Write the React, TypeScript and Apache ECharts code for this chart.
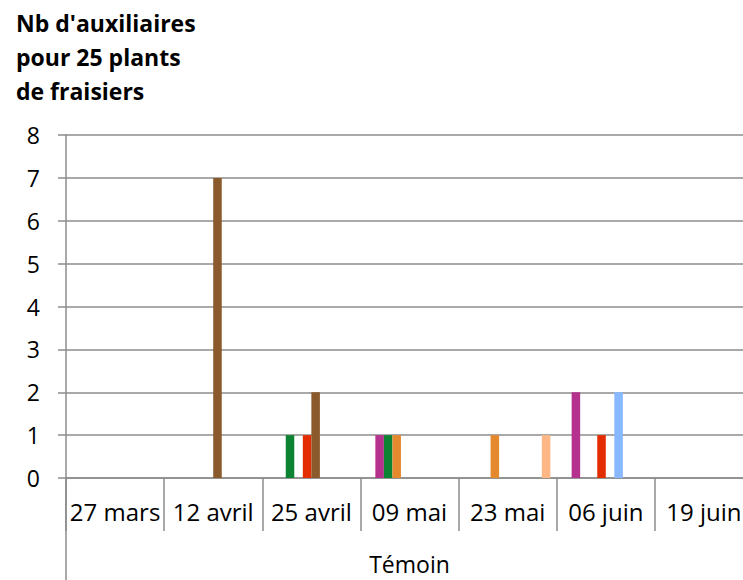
import React, { useEffect, useRef } from "react";
import * as echarts from "echarts";

const categories = ["27 mars", "12 avril", "25 avril", "09 mai", "23 mai", "06 juin", "19 juin"];
const groupLabels = ["Témoin"];
const yTicks = [0, 1, 2, 3, 4, 5, 6, 7, 8];

const seriesNames = ["Série 1", "Série 2", "Série 3", "Série 4", "Série 5", "Série 6", "Série 7", "Série 8", "Série 9", "Série 10"];
const serie1 = [0, 0, 0, 0, 0, 0, 0];
const serie2 = [0, 0, 0, 1, 0, 2, 0];
const serie3 = [0, 0, 1, 1, 0, 0, 0];
const serie4 = [0, 0, 0, 1, 1, 0, 0];
const serie5 = [0, 0, 1, 0, 0, 1, 0];
const serie6 = [0, 7, 2, 0, 0, 0, 0];
const serie7 = [0, 0, 0, 0, 0, 2, 0];
const serie8 = [0, 0, 0, 0, 0, 0, 0];
const serie9 = [0, 0, 0, 0, 0, 0, 0];
const serie10 = [0, 0, 0, 0, 1, 0, 0];
const seriesValues = [serie1, serie2, serie3, serie4, serie5, serie6, serie7, serie8, serie9, serie10];
const seriesColors = ["#4472C4", "#B5318E", "#0C8332", "#E5892F", "#E32D00", "#8A5A2C", "#88B8FF", "#A5A5A5", "#70AD47", "#FFB785"];

const FONT = "'Open Sans', sans-serif";
const GRID_COLOR = "#8c8c8c";

export default function App() {
  const ref = useRef<HTMLDivElement>(null);
  useEffect(() => {
    if (!ref.current) return;
    const chart = echarts.init(ref.current, null, { renderer: "svg" });
    chart.setOption({
      animation: false,
      backgroundColor: "#ffffff",
      title: {
        text: "Nb d'auxiliaires\npour 25 plants\nde fraisiers",
        left: 11,
        top: 1,
        textStyle: { fontFamily: FONT, fontSize: 23, fontWeight: "bold", color: "#000", lineHeight: 34 },
      },
      grid: { left: 66, width: 687, top: 135, height: 343, containLabel: false, outerBoundsMode: "none" },
      xAxis: [
        {
          type: "category",
          data: categories,
          position: "bottom",
          axisLine: { show: true, lineStyle: { color: GRID_COLOR, width: 1.5 } },
          axisTick: { show: true, length: 53, interval: 0, alignWithLabel: false, lineStyle: { color: GRID_COLOR, width: 1.5 } },
          axisLabel: { interval: 0, margin: 21, fontFamily: FONT, fontSize: 24, color: "#000" },
          splitLine: { show: false },
        },
        {
          type: "category",
          data: groupLabels,
          position: "bottom",
          axisLine: { show: false },
          axisTick: { show: false },
          axisLabel: { interval: 0, margin: 74, fontFamily: FONT, fontSize: 23, color: "#000" },
          splitLine: { show: false },
        },
      ],
      yAxis: {
        type: "value",
        min: yTicks[0],
        max: yTicks[yTicks.length - 1],
        interval: 1,
        axisLine: { show: true, lineStyle: { color: GRID_COLOR, width: 1.5 } },
        axisTick: { show: true, length: 8, lineStyle: { color: GRID_COLOR, width: 1.5 } },
        axisLabel: { margin: 26, fontFamily: FONT, fontSize: 23, color: "#000" },
        splitLine: { show: true, lineStyle: { color: GRID_COLOR, width: 1.5 } },
      },
      graphic: [
        {
          type: "line",
          shape: { x1: 66, y1: 478, x2: 66, y2: 580 },
          style: { stroke: GRID_COLOR, lineWidth: 1.5 },
        },
      ],
      series: seriesValues.map((vals, i) => ({
        name: seriesNames[i],
        type: "bar",
        xAxisIndex: 0,
        data: vals.map((v) => (v === 0 ? null : v)),
        barGap: "0%",
        barCategoryGap: "13%",
        itemStyle: { color: seriesColors[i] },
      })),
    });
    return () => chart.dispose();
  }, []);
  return (
    <div style={{ position: "absolute", left: 0, top: 0, width: 743, height: 580, overflow: "hidden" }}>
      <div ref={ref} style={{ position: "absolute", left: 0, top: 0, width: 760, height: 580 }} />
    </div>
  );
}
